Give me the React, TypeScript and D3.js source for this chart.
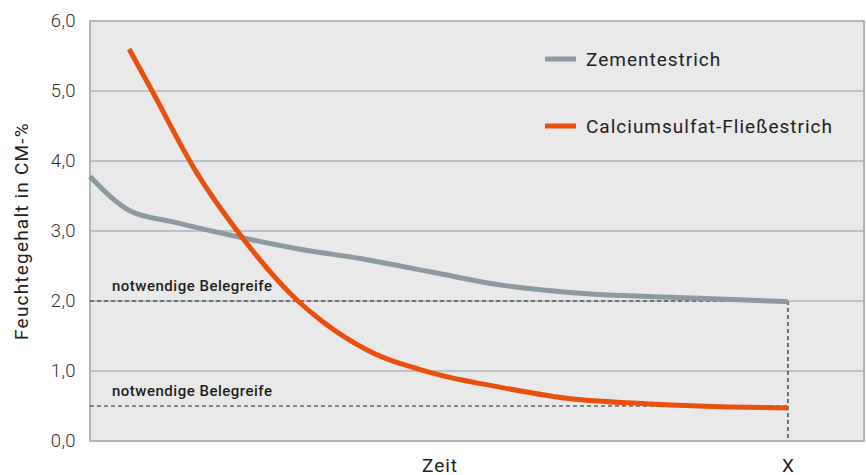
import React from 'react';
import * as d3 from 'd3';

// time in % of point X, moisture in CM-%
const zementT = [0, 5.7, 11.9, 21.5, 30.1, 39.7, 49.1, 58.7, 63.5, 70.2, 87.4, 100];
const zementV = [3.78, 3.29, 3.13, 2.91, 2.74, 2.59, 2.41, 2.23, 2.17, 2.11, 2.04, 1.99];

const calciumT = [5.6, 8.9, 15.3, 21.1, 29.8, 33.4, 39.7, 49.1, 58.7, 68.3, 80.2, 100];
const calciumV = [5.6, 5.0, 3.83, 3.0, 2.0, 1.7, 1.3, 0.97, 0.77, 0.61, 0.53, 0.47];

const yTicks = [0, 1, 2, 3, 4, 5, 6];
const belegreife = [2.0, 0.5];
const legendItems = ['Zementestrich', 'Calciumsulfat-Fließestrich'];

const W = 866;
const H = 475;
const margin = { left: 90, right: 2, top: 21, bottom: 34 };
const GREY = '#8d9ba1';
const ORANGE = '#e9500e';
const GRID = '#abb8bd';
const FONT = 'Roboto, "DejaVu Sans", sans-serif';

const App = () => {
  const x = d3.scaleLinear().domain([0, 110.9]).range([margin.left, W - margin.right]);
  const y = d3.scaleLinear().domain([0, 6]).range([H - margin.bottom, margin.top]);
  const fmt = (v: number) => d3.format('.1f')(v).replace('.', ',');

  const line = d3
    .line<[number, number]>()
    .x(d => x(d[0]))
    .y(d => y(d[1]))
    .curve(d3.curveMonotoneX);

  const zement = zementT.map((t, i) => [t, zementV[i]] as [number, number]);
  const calcium = calciumT.map((t, i) => [t, calciumV[i]] as [number, number]);
  const xMark = x(100);

  return (
    <svg width={W} height={H} style={{ position: 'absolute', left: 0, top: 0 }} fontFamily={FONT}>
      <rect x={x(0)} y={y(6)} width={x.range()[1] - x(0)} height={y(0) - y(6)} fill="#e8e9e8" />
      {yTicks.map(t => (
        <g key={t}>
          <line x1={x(0)} x2={x.range()[1]} y1={y(t)} y2={y(t)} stroke={GRID} strokeWidth={1.5} />
          <text x={76} y={y(t)} dy="0.35em" textAnchor="end" fontSize={18.5} fontWeight={300} letterSpacing={0.4} fill="#333">
            {fmt(t)}
          </text>
        </g>
      ))}
      <rect
        x={x(0)}
        y={y(6)}
        width={x.range()[1] - x(0)}
        height={y(0) - y(6)}
        fill="none"
        stroke={GRID}
        strokeWidth={2}
      />
      <text
        transform={`translate(28 ${y(3)}) rotate(-90)`}
        textAnchor="middle"
        fontSize={19}
        letterSpacing={1.2}
        fill="#222"
      >
        Feuchtegehalt in CM-%
      </text>

      {belegreife.map(v => (
        <g key={v}>
          <line x1={x(0)} x2={xMark} y1={y(v)} y2={y(v)} stroke="#222" strokeWidth={1.2} strokeDasharray="4 3" />
          <text x={112} y={y(v) - 10} fontSize={15} fontWeight={500} letterSpacing={0.5} fill="#1e1e1e">
            notwendige Belegreife
          </text>
        </g>
      ))}
      <line x1={xMark} x2={xMark} y1={y(2)} y2={y(0)} stroke="#222" strokeWidth={1.2} strokeDasharray="4 3" />

      <path d={line(zement) || ''} fill="none" stroke={GREY} strokeWidth={5} />
      <path d={line(calcium) || ''} fill="none" stroke={ORANGE} strokeWidth={5} />

      {legendItems.map((name, i) => (
        <g key={name} transform={`translate(545 ${59 + i * 67})`}>
          <line x1={0} x2={31} y1={0} y2={0} stroke={i === 0 ? GREY : ORANGE} strokeWidth={5} />
          <text x={41} y={0} dy="0.35em" fontSize={19} letterSpacing={1} fill="#222">
            {name}
          </text>
        </g>
      ))}

      <text x={440} y={472} textAnchor="middle" fontSize={19} letterSpacing={1} fill="#222">
        Zeit
      </text>
      <text x={xMark} y={472} textAnchor="middle" fontSize={19} fill="#222">
        X
      </text>
    </svg>
  );
};

export default App;
